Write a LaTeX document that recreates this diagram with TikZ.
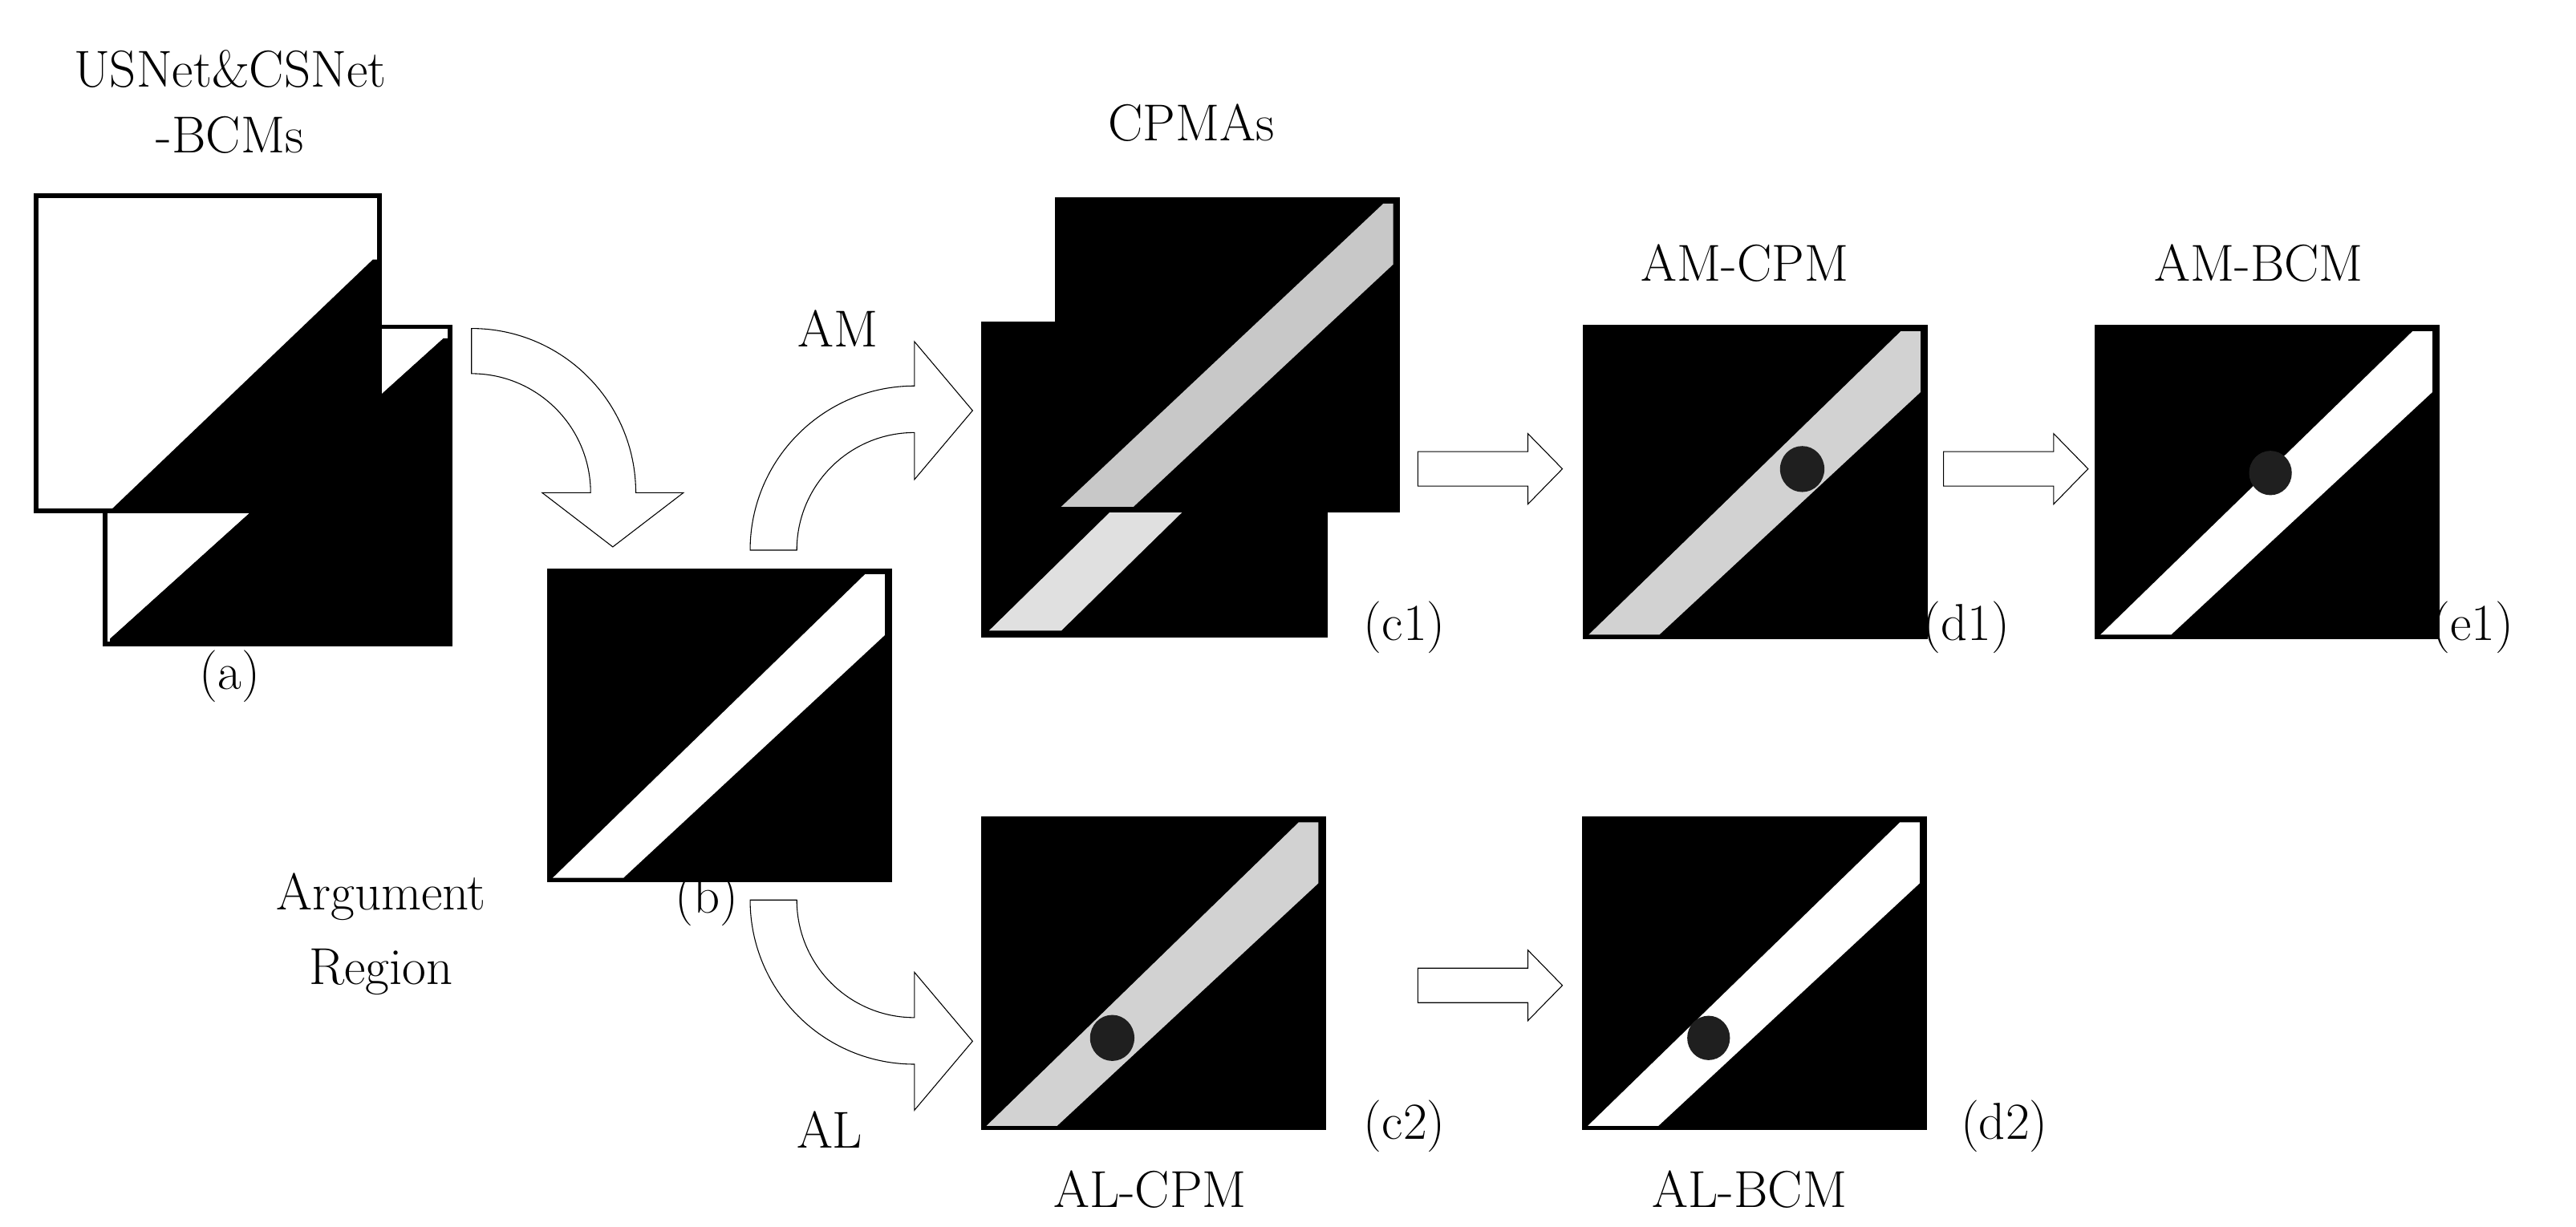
\documentclass[tikz,border=0pt]{standalone}
\begin{document}
\begin{tikzpicture}[x=0.02cm,y=-0.02cm,
  lbl/.style={font=\fontsize{18}{21}\selectfont,inner sep=0pt},
  harrow/.style={draw=black,line width=0.3pt,fill=white},
  dotc/.style={fill=black!88}]
\definecolor{g1}{HTML}{C8C8C8}
\definecolor{g2}{HTML}{E0E0E0}
\definecolor{g3}{HTML}{D2D2D2}
\useasboundingbox (0,0) rectangle (1568,747);
\newcommand\sqmap[4]{%
  \begin{scope}[shift={(#1,#2)}]
    \fill[black] (0,0) rectangle (210,191);
    \fill[#3] (3.5,188.5) -- (46.5,188.5) -- (205.5,40.8) -- (205.5,3.7) -- (193.5,3.7) -- cycle;
    #4
  \end{scope}}
% (a)
\begin{scope}[shift={(64,199)}]
  \fill[white] (0,0) rectangle (210,193);
  \fill[black] (206,7) -- (3,190) -- (210,193) -- cycle;
  \fill[black] (206,7) -- (210,7) -- (210,193) -- (3,193) -- (3,190) -- cycle;
  \draw[line width=1.6pt] (0,0) rectangle (210,193);
\end{scope}
\begin{scope}[shift={(22,119)}]
  \fill[white] (0,0) rectangle (209,192);
  \fill[black] (205,39) -- (209,39) -- (209,192) -- (45,192) -- cycle;
  \draw[line width=1.6pt] (0,0) rectangle (209,192);
\end{scope}
% (b)
\sqmap{333}{346}{white}{}
% c1
\begin{scope}
  \fill[black] (597,196) rectangle (808,388);
  \clip (597,196) rectangle (808,388);
  \fill[g2] (602,384) -- (646,384) -- (846,188) -- (802,188) -- cycle;
\end{scope}
\fill[black] (642,120) rectangle (852,312);
\fill[g1] (646,308.5) -- (690,308.5) -- (848,161) -- (848,124) -- (842,124) -- cycle;
% d1, e1, c2, d2
\sqmap{963.5}{198}{g3}{\fill[black!88] (133.5,87.6) ellipse [x radius=13.5,y radius=14];}
\sqmap{1275}{198}{white}{\fill[black!88] (107,90) ellipse [x radius=13,y radius=13.5];}
\sqmap{597}{497}{g3}{\fill[black!88] (80,135) ellipse [x radius=13.5,y radius=14];}
\sqmap{963}{497}{white}{\fill[black!88] (77,135) ellipse [x radius=13,y radius=13.5];}
% curved arrows
\draw[harrow] (287,200) arc[start angle=270,end angle=360,radius=100] -- (416,300) -- (373,333) -- (330,300) -- (359.5,300) arc[start angle=0,end angle=-90,radius=72.5] -- cycle;
\draw[harrow] (456.6,335) arc[start angle=180,end angle=270,radius=100] -- (556.6,208) -- (592,250) -- (556.6,292) -- (556.6,263.4) arc[start angle=270,end angle=180,radius=71.6] -- cycle;
\draw[harrow] (456.6,548) arc[start angle=180,end angle=90,radius=100] -- (556.6,676) -- (592,634) -- (556.6,592) -- (556.6,619.6) arc[start angle=90,end angle=180,radius=71.6] -- cycle;
% straight arrows
\foreach \dx/\dy in {0/0, 320/0, 0/314.5}{
  \draw[harrow,shift={(\dx,\dy)}] (863,275) -- (930,275) -- (930,264) -- (951,285.5) -- (930,307) -- (930,296) -- (863,296) -- cycle;
}
% labels
\node[lbl] (t1) at (140,42) {USNet\&CSNet};
\node[lbl] (t2) at (140,82) {-BCMs};
\node[lbl] (la) at (140,412) {(a)};
\node[lbl] (ar1) at (232,546) {Argument};
\node[lbl] (ar2) at (232,592) {Region};
\node[lbl] (lb) at (430,548) {(b)};
\node[lbl] (am) at (510,200) {AM};
\node[lbl] (al) at (505,688) {AL};
\node[lbl] (cp) at (725,75) {CPMAs};
\node[lbl] (lc1) at (855,382) {(c1)};
\node[lbl] (ld1) at (1197,382) {(d1)};
\node[lbl] (le1) at (1505,382) {(e1)};
\node[lbl] (lc2) at (855,686) {(c2)};
\node[lbl] (ld2) at (1220,686) {(d2)};
\node[lbl] (amc) at (1062,160) {AM-CPM};
\node[lbl] (amb) at (1375,160) {AM-BCM};
\node[lbl] (alc) at (700,724) {AL-CPM};
\node[lbl] (alb) at (1065,724) {AL-BCM};
\end{tikzpicture}
\end{document}
